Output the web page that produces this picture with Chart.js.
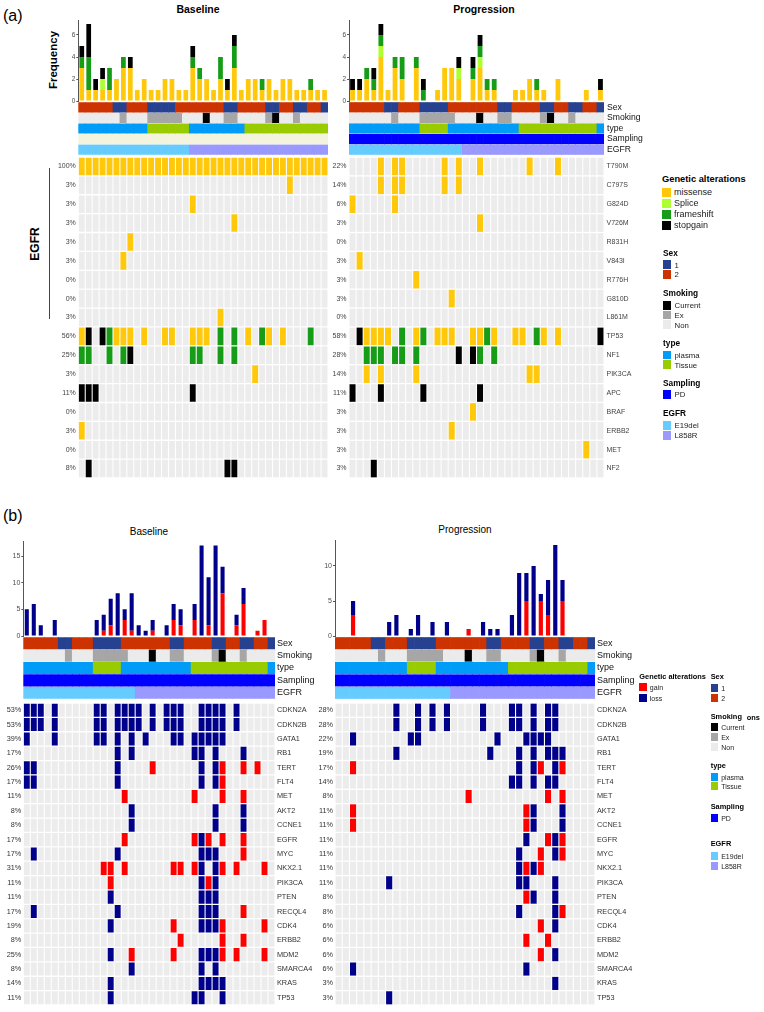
<!DOCTYPE html>
<html>
<head>
<meta charset="utf-8">
<script src="https://cdn.jsdelivr.net/npm/chart.js@4.4.1/dist/chart.umd.min.js"></script>
<style>
  body { margin: 0; background: #fff; }
  #page { position: relative; width: 764px; height: 1012px; overflow: hidden; background: #fff; }
  canvas { position: absolute; }
  .t { position: absolute; white-space: nowrap; color: #000; line-height: 1; }
  .sw { position: absolute; }
</style>
</head>
<body>
<div id="page"></div>
<script>
// ---- data -------------------------------------------------------------
// one character per sample, 36 samples, spaces only for readability
const cells = s => s.replace(/\s+/g, "").split("");
const samples = Array.from({ length: 36 }, (_, i) => "P" + (i + 1));

const trackNames = ["Sex", "Smoking", "type", "Sampling", "EGFR"];
const sexTrack = cells("22222 11 222 1111 2222222 11 2222 11 22 11 22 1");
const smokingTrack = cells("NNNNNN ENNNEE EEENNN CNNEEN NNNECN NENNNN");
const typeTrackBaseA = cells("PPPPPP PPPPTT TTTTPP PPPPPP TTTTTT TTTTTT");
const typeTrack = cells("PPPPPP PPPPTT TTPPPP PPPPPP TTTTTT TTTTTP");
const samplingBaseA = cells("UUUUUU UUUUUU UUUUUU UUUUUU UUUUUU UUUUUU");
const samplingTrack = cells("DDDDDD DDDDDD DDDDDD DDDDDD DDDDDD DDDDDD");
const egfrTrack = cells("EEEEEE EEEEEE EEEELL LLLLLL LLLLLL LLLLLL");

// panel (a): point mutations  M missense, S splice, F frameshift, X stopgain
const genesA = ["T790M", "C797S", "G824D", "V726M", "R831H", "V843I", "R776H", "G810D", "L861M",
  "TP53", "NF1", "PIK3CA", "APC", "BRAF", "ERBB2", "MET", "NF2"];
const pctBaseA = ["100%", "3%", "3%", "3%", "3%", "3%", "0%", "0%", "3%", "56%", "25%", "3%", "11%", "0%", "3%", "0%", "8%"];
const pctProgA = ["22%", "14%", "6%", "3%", "0%", "3%", "3%", "3%", "0%", "58%", "28%", "14%", "11%", "3%", "3%", "3%", "3%"];
const altBaseA = [
  "MMMMMM MMMMMM MMMMMM MMMMMM MMMMMM MMMMMM",
  "...... ...... ...... ...... ...... M.....",
  "...... ...... ....M. ...... ...... ......",
  "...... ...... ...... ....M. ...... ......",
  "...... .M.... ...... ...... ...... ......",
  "...... M..... ...... ...... ...... ......",
  "...... ...... ...... ...... ...... ......",
  "...... ...... ...... ...... ...... ......",
  "...... ...... ...... ..M... ...... ......",
  "MX.XFM MM.M.. MM..MM M.F.F. M.FM.M ...F..",
  "FF..F. FX.... ....FF ..F.F. ...... ......",
  "...... ...... ...... ...... .M.... ......",
  "XXX... ...... ....X. ...... ...... ......",
  "...... ...... ...... ...... ...... ......",
  "M..... ...... ...... ...... ...... ......",
  "...... ...... ...... ...... ...... ......",
  ".X.... ...... ...... ...XX. ...... ......"
];
const altProgA = [
  "....M. MM.... .M.M.. M..... .M...M ......",
  "....M. MM.... .M.M.. ...... ...... ......",
  "M..... M..... ...... ...... ...... ......",
  "...... ...... ...... M..... ...... ......",
  "...... ...... ...... ...... ...... ......",
  ".M.... ...... ...... ...... ...... ......",
  "...... ...M.. ...... ...... ...... ......",
  "...... ...... ..M... ...... ...... ......",
  "...... ...... ...... ...... ...... ......",
  ".XMMMM .F.MF. MMM..M MFM..M M.FM.M .....X",
  "..FFF. FF.F.. ...X.X F.F... ...... ......",
  "..M.M. ...M.. ...... ...... .MM... ......",
  "X...X. ....X. ...... X..... ...... ......",
  "...... ...... .....M ...... ...... ......",
  "...... ...... ..M... ...... ...... ......",
  "...... ...... ...... ...... ...... ...M..",
  "...X.. ...... ...... ...... ...... ......"
];
const missenseBaseA   = [3,1,1,1,1,2, 3,3,1,2,1,1, 2,2,1,1,3,2, 2,1,2,1,3,1, 2,2,1,2,1,2, 2,1,1,1,1,1];
const spliceBaseA     = [0,0,0,1,0,0, 0,0,0,0,0,0, 0,0,0,0,0,0, 0,0,0,0,0,0, 0,0,0,0,0,0, 0,0,0,0,0,0];
const frameshiftBaseA = [1,3,0,0,2,0, 1,0,0,0,0,0, 0,0,0,0,1,1, 0,0,2,0,2,0, 0,0,1,0,0,0, 0,0,0,1,0,0];
const stopgainBaseA   = [1,3,1,1,0,0, 0,1,0,0,0,0, 0,0,0,0,1,0, 0,0,0,1,1,0, 0,0,0,0,0,0, 0,0,0,0,0,0];
const missenseProgA   = [1,1,2,1,4,1, 3,2,0,3,0,0, 1,3,3,2,0,2, 3,1,1,0,0,1, 1,2,1,1,0,2, 0,0,0,1,0,1];
const spliceProgA     = [0,0,0,0,1,0, 0,0,0,0,0,0, 0,0,0,1,0,0, 1,0,0,0,0,0, 0,0,0,0,0,0, 0,0,0,0,0,0];
const frameshiftProgA = [0,0,1,1,1,0, 1,2,0,1,1,0, 0,0,0,0,0,1, 1,1,1,0,0,0, 0,0,1,0,0,0, 0,0,0,0,0,0];
const stopgainProgA   = [1,1,0,1,1,0, 0,0,0,0,1,0, 0,0,0,1,0,1, 1,0,0,0,0,0, 0,0,0,0,0,0, 0,0,0,0,0,1];

// panel (b): copy number  G gain, L loss
const genesB = ["CDKN2A", "CDKN2B", "GATA1", "RB1", "TERT", "FLT4", "MET", "AKT2", "CCNE1", "EGFR", "MYC",
  "NKX2.1", "PIK3CA", "PTEN", "RECQL4", "CDK4", "ERBB2", "MDM2", "SMARCA4", "KRAS", "TP53"];
const pctBaseB = ["53%", "53%", "39%", "17%", "26%", "17%", "11%", "8%", "8%", "17%", "17%", "31%", "11%", "11%", "17%", "19%", "8%", "25%", "8%", "14%", "11%"];
const pctProgB = ["28%", "28%", "22%", "19%", "17%", "14%", "8%", "11%", "11%", "11%", "11%", "11%", "11%", "8%", "8%", "6%", "6%", "6%", "6%", "3%", "3%"];
const altBaseB = [
  "LLL.L. ....LL .LLLL. L.LLL. .LLLL. L.....",
  "LLL.L. ....LL .LLLL. L.LLL. .LLLL. L.....",
  "L...L. ....LL .L.L.L ...LL. LLLLL. ......",
  "...... ...... .L.L.. ...... LL.L.. .L....",
  "LL.... ...... .L.... G..... .L.LG. .G.G..",
  "LL.... ...... .L.... ...... .L.LG. ......",
  "...... ...... ..G... ...... G...G. .G....",
  "...... ...... ...L.. ...... ...L.. .L....",
  "...... ...... ...L.. ...... ...L.. .L....",
  "...... ...... ..G... ...... GLG.G. .G....",
  ".L.... ...... .L.... ...... .LLL.. .G....",
  "...... .....G G.G... ...GG. GL.LG. G...G.",
  "...... ...... G..... ...... .LGL.. ......",
  "...... ...... L..... ...... .LLL.. ......",
  ".L.... ...... .L.... ...... .LLL.. .G....",
  "...... ...... L..... ...G.. .LLLG. ....G.",
  "...... ...... ...... ....G. ....G. .G....",
  "...... ...... L..G.. ...G.. .LLLG. G...G.",
  "...... ...... ...L.. ...... .L.L.. ......",
  "...... ...... L..... ...... .LLLL. ......",
  "...... ...... L..... ...... LL..L. ......"
];
const altProgB = [
  "...... ..L..L .L.L.. ..L... LL.L.L L.....",
  "...... ..L..L .L.L.. ..L... LL.L.L L.....",
  "..L... ....LL ...... ....L. ..LLLL ......",
  "...... ..L... ...... ...L.. .L.L.L LL....",
  "..G... ...... ...... ...... .L.LG. LG....",
  "...... ...... ...... ...... LL.L.L L.....",
  "...... ...... ...... G..... .....G .G....",
  "..G... ...... ...... ...... ..GL.. .L....",
  "..G... ...... ...... ...... ..GL.. .L....",
  "...... ...... ...... ...... ..L..G LG....",
  "...... ...... ...... ...... .L..G. LG....",
  "...... ...... ...... ...... .LGLG. ......",
  "...... .L.... ...... ...... .LL... L.....",
  "...... ...... ...... ...... ..GL.. L.....",
  "...... ...... ...... ...... .L.... LG....",
  "...... ...... ...... ...... ....G. L.....",
  "...... ...... ...... ...... ..G..G ......",
  "...... ...... ...... ...... ....G. L.....",
  "..L... ...... ...... ...... ..L... ......",
  "...... ...... ...... ...... ...... L.....",
  "...... .L.... ...... ...... ...... ......"
];
const gainBaseB = [0,0,0,0,0,0, 0,0,0,0,0,1, 2,0,3,1,0,0, 1,0,0,3,2,0, 3,0,2,0,8,0, 2,6,0,1,3,0];
const lossBaseB = [5,6,2,0,3,0, 0,0,0,0,3,3, 5,8,2,7,2,1, 2,0,2,3,3,0, 3,17,9,17,5,0, 2,3,0,0,0,0];
const gainProgB = [0,0,3,0,0,0, 0,0,0,0,0,0, 0,0,0,0,0,0, 1,0,0,0,0,0, 0,0,5,0,5,3, 0,5,0,0,0,0];
const lossProgB = [0,0,2,0,0,0, 0,2,3,0,1,3, 0,2,0,2,0,0, 0,0,2,1,1,0, 3,9,4,10,1,5, 13,3,0,0,0,0];

// ---- colours ----------------------------------------------------------
const altColor = { M: "#FFC80A", S: "#ADFF2F", F: "#169C16", X: "#000000", G: "#FF0000", L: "#00008B", ".": "#ECECEC" };
const sexColor = { "1": "#26418F", "2": "#CC3300" };
const smokeColor = { C: "#000000", E: "#A6A6A6", N: "#EBEBEB" };
const typeColor = { P: "#009CF7", T: "#99CC00" };
const samplingColor = { D: "#0000FF", U: "#F4F3DD" };
const egfrColor = { E: "#66CCFF", L: "#9999FF" };

const SANS = '"Liberation Sans", Arial, sans-serif';

Chart.defaults.font.family = SANS;
Chart.defaults.animation = false;
Chart.defaults.responsive = false;
Chart.defaults.plugins.legend.display = false;
Chart.defaults.plugins.tooltip.enabled = false;

// ---- helpers ----------------------------------------------------------
const page = document.getElementById("page");

function addCanvas(x, y, w, h) {
  const c = document.createElement("canvas");
  c.width = Math.round(w);
  c.height = Math.round(h);
  c.style.left = x + "px";
  c.style.top = y + "px";
  page.appendChild(c);
  return c.getContext("2d");
}

function txt(s, x, y, o = {}) {
  const d = document.createElement("div");
  d.className = "t";
  d.textContent = s;
  d.style.left = x + "px";
  d.style.top = y + "px";
  d.style.font = (o.weight || "normal") + " " + (o.size || 10) + "px " + SANS;
  d.style.color = o.color || "#000";
  const ax = o.align === "center" ? "-50%" : "0";
  d.style.transform = "translate(" + ax + ", -50%)" + (o.rotate ? " rotate(-90deg)" : "");
  page.appendChild(d);
}

function box(x, y, w, h, color) {
  const d = document.createElement("div");
  d.className = "sw";
  d.style.left = x + "px";
  d.style.top = y + "px";
  d.style.width = w + "px";
  d.style.height = h + "px";
  d.style.background = color;
  page.appendChild(d);
}

function legend(x, titleY, title, items, firstY, step, o) {
  txt(title, x, titleY, { weight: "bold", size: o.titleSize });
  items.forEach(([label, color], i) => {
    const cy = firstY + i * step;
    box(x, cy - o.sh / 2, o.sw, o.sh, color);
    txt(label, x + o.dx, cy, { size: o.itemSize, color: "#222" });
  });
}

// stacked frequency bars on top of each oncoplot
function freqChart(o) {
  const x0 = Math.round(o.plotL - o.axisW);
  const axisW = o.plotL - x0;
  const pad = 4;
  const top = Math.round(o.axisTop);
  const h = Math.round(o.zeroY - top) + pad;
  const ctx = addCanvas(x0, top, o.plotR - x0, h);
  return new Chart(ctx, {
    type: "bar",
    data: {
      labels: samples,
      datasets: o.series.map((d, i) => ({
        data: d, backgroundColor: o.colors[i],
        barPercentage: o.barPct, categoryPercentage: 1, borderWidth: 0
      }))
    },
    options: {
      devicePixelRatio: 1,
      layout: { padding: { bottom: pad } },
      scales: {
        x: { display: false, stacked: true },
        y: {
          stacked: true, min: 0, max: (h - pad) / o.unitPx,
          afterBuildTicks: s => { s.ticks = o.ticks.map(v => ({ value: v })); },
          afterFit: s => { s.width = axisW; s.paddingTop = 0; s.paddingBottom = 0; },
          grid: { drawOnChartArea: false, tickLength: 2, color: "#555" },
          border: { color: "#555" },
          ticks: { padding: 1, color: "#4d4d4d", font: { size: o.tickSize } }
        }
      }
    }
  });
}

// tile grid (annotation tracks and alteration matrix) as floating bars
function gridChart(o) {
  const n = o.rows.length;
  const leftW = o.left ? o.leftW : 0;
  const rightW = o.right ? o.rightW : 0;
  const x0 = Math.round(o.plotL - leftW);
  const lw = o.plotL - x0;
  const top = Math.round(o.top);
  const ctx = addCanvas(x0, top, o.plotR - x0 + rightW, o.bottom - top);
  const datasets = o.rows.map((colors, r) => ({
    data: colors.map(() => [r + o.gap, r + 1 - o.gap]),
    backgroundColor: colors,
    grouped: false, barPercentage: o.colPct, categoryPercentage: 1, borderWidth: 0,
    yAxisID: "y"
  }));
  const axis = (labels, position, width) => ({
    type: "linear", position, min: 0, max: n, reverse: true, display: !!labels,
    afterBuildTicks: s => { s.ticks = o.rows.map((_, r) => ({ value: r + 0.5 })); },
    afterFit: s => { s.width = width; s.paddingTop = 0; s.paddingBottom = 0; },
    grid: { display: false, drawTicks: false, tickLength: 0 },
    border: { display: false },
    ticks: {
      autoSkip: false, padding: o.pad || 2, color: o.color || "#333", font: o.font,
      callback: v => (labels ? labels[Math.floor(v)] : "")
    }
  });
  return new Chart(ctx, {
    type: "bar",
    data: { labels: samples, datasets },
    options: {
      devicePixelRatio: 1,
      layout: { padding: 0 },
      scales: { x: { display: false }, y: axis(o.left, "left", lw), y2: axis(o.right, "right", rightW) }
    }
  });
}

const paint = (rows) => rows.map(s => cells(s).map(c => altColor[c]));
const tracks = (type, sampling) => [
  sexTrack.map(c => sexColor[c]),
  smokingTrack.map(c => smokeColor[c]),
  type.map(c => typeColor[c]),
  sampling.map(c => samplingColor[c]),
  egfrTrack.map(c => egfrColor[c])
];
const mutColors = [altColor.M, altColor.S, altColor.F, altColor.X];
const cnvColors = [altColor.G, altColor.L];
const geneFontA = { size: 7 };
const geneFontB = { size: 7.3 };

// ---- panel (a) --------------------------------------------------------
txt("(a)", 3, 16, { size: 16 });
txt("Baseline", 198, 8.5, { weight: "bold", size: 10.5, align: "center" });
txt("Progression", 484, 8.5, { weight: "bold", size: 10.5, align: "center" });
txt("Frequency", 53, 60, { weight: "bold", size: 11.5, align: "center", rotate: true });
txt("EGFR", 35, 244, { weight: "bold", size: 12, align: "center", rotate: true });
box(49, 168, 1, 151, "#444");

freqChart({ plotL: 78.3, plotR: 328, axisTop: 20, zeroY: 101, unitPx: 11, axisW: 16,
  ticks: [0, 2, 4, 6], series: [missenseBaseA, spliceBaseA, frameshiftBaseA, stopgainBaseA],
  colors: mutColors, barPct: 0.68, tickSize: 6.5 });
freqChart({ plotL: 349, plotR: 604, axisTop: 20, zeroY: 101, unitPx: 11, axisW: 16,
  ticks: [0, 2, 4, 6], series: [missenseProgA, spliceProgA, frameshiftProgA, stopgainProgA],
  colors: mutColors, barPct: 0.68, tickSize: 6.5 });

gridChart({ plotL: 78.3, plotR: 328, top: 101.6, bottom: 155.4, rows: tracks(typeTrackBaseA, samplingBaseA),
  gap: 0.05, colPct: 1 });
gridChart({ plotL: 349, plotR: 604, top: 101.6, bottom: 155.4, rows: tracks(typeTrack, samplingTrack),
  gap: 0.05, colPct: 1, right: trackNames, rightW: 160, pad: 3, color: "#111", font: { size: 8.6 } });

gridChart({ plotL: 78.3, plotR: 328, top: 157, bottom: 478, rows: paint(altBaseA),
  gap: 0.035, colPct: 0.85, left: pctBaseA, leftW: 38, pad: 2.5, font: geneFontA, color: "#444" });
gridChart({ plotL: 349, plotR: 604, top: 157, bottom: 478, rows: paint(altProgA),
  gap: 0.035, colPct: 0.85, left: pctProgA, leftW: 29, right: genesA, rightW: 50, pad: 2.5,
  font: geneFontA, color: "#444" });

legend(662, 179, "Genetic alterations",
  [["missense", altColor.M], ["Splice", altColor.S], ["frameshift", altColor.F], ["stopgain", altColor.X]],
  192.3, 10.9, { titleSize: 9.3, itemSize: 9, sw: 8.5, sh: 9, dx: 12 });
const subA = { titleSize: 8.3, itemSize: 7.8, sw: 8.3, sh: 8.5, dx: 11.5 };
legend(663, 252.7, "Sex", [["1", sexColor["1"]], ["2", sexColor["2"]]], 264.7, 9.7, subA);
legend(663, 293.3, "Smoking", [["Current", smokeColor.C], ["Ex", smokeColor.E], ["Non", smokeColor.N]], 305.3, 9.6, subA);
legend(663, 343, "type", [["plasma", typeColor.P], ["Tissue", typeColor.T]], 355, 9.5, subA);
legend(663, 382.7, "Sampling", [["PD", samplingColor.D]], 394.3, 10, subA);
legend(663, 413.3, "EGFR", [["E19del", egfrColor.E], ["L858R", egfrColor.L]], 425.3, 10, subA);

// ---- panel (b) --------------------------------------------------------
txt("(b)", 3, 516, { size: 16 });
txt("Baseline", 149, 531, { size: 10, align: "center" });
txt("Progression", 465, 529, { size: 10, align: "center" });

freqChart({ plotL: 23.3, plotR: 275.3, axisTop: 541, zeroY: 636, unitPx: 5.33, axisW: 18,
  ticks: [0, 5, 10, 15], series: [gainBaseB, lossBaseB], colors: cnvColors, barPct: 0.58, tickSize: 7 });
freqChart({ plotL: 335, plotR: 595, axisTop: 540, zeroY: 636, unitPx: 7, axisW: 17,
  ticks: [0, 5, 10], series: [gainProgB, lossProgB], colors: cnvColors, barPct: 0.58, tickSize: 7 });

gridChart({ plotL: 23.3, plotR: 275.3, top: 637, bottom: 698.6, rows: tracks(typeTrack, samplingTrack),
  gap: 0.04, colPct: 1, right: trackNames, rightW: 60, pad: 2, color: "#111", font: { size: 9 } });
gridChart({ plotL: 335, plotR: 595, top: 637, bottom: 698.6, rows: tracks(typeTrack, samplingTrack),
  gap: 0.04, colPct: 1, right: trackNames, rightW: 169, pad: 2, color: "#111", font: { size: 9 } });

gridChart({ plotL: 23.3, plotR: 275.3, top: 702.6, bottom: 1005.3, rows: paint(altBaseB),
  gap: 0.045, colPct: 0.85, left: pctBaseB, leftW: 23.3, right: genesB, rightW: 57, pad: 2,
  font: geneFontB, color: "#333" });
gridChart({ plotL: 335, plotR: 595, top: 702.6, bottom: 1005.3, rows: paint(altProgB),
  gap: 0.045, colPct: 0.85, left: pctProgB, leftW: 23, right: genesB, rightW: 45, pad: 2,
  font: geneFontB, color: "#333" });

const subB = { titleSize: 7.4, itemSize: 7, sw: 7.4, sh: 8, dx: 10.5 };
legend(639.3, 675.7, "Genetic alterations", [["gain", altColor.G], ["loss", altColor.L]], 687, 10.5, subB);
legend(710.7, 675.7, "Sex", [["1", sexColor["1"]], ["2", sexColor["2"]]], 688, 9.7, subB);
legend(710.7, 716, "Smoking", [["Current", smokeColor.C], ["Ex", smokeColor.E], ["Non", smokeColor.N]], 727, 10, subB);
txt("ons", 746.7, 716.5, { weight: "bold", size: 7.4 });
legend(710.7, 765, "type", [["plasma", typeColor.P], ["Tissue", typeColor.T]], 776.5, 9.5, subB);
legend(710.7, 806, "Sampling", [["PD", samplingColor.D]], 818, 10, subB);
legend(710.7, 843, "EGFR", [["E19del", egfrColor.E], ["L858R", egfrColor.L]], 855.5, 10.5, subB);
</script>
</body>
</html>
